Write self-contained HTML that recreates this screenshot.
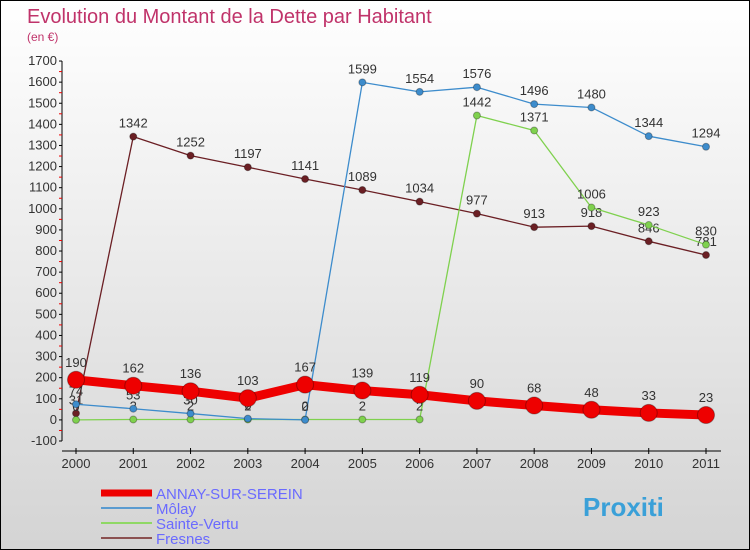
<!DOCTYPE html>
<html><head><meta charset="utf-8"><style>
body{margin:0}
#c{width:748px;height:548px;border:1px solid #000;background:linear-gradient(#fff,#d4d4d4);position:relative;font-family:"Liberation Sans",sans-serif;overflow:hidden}
</style></head><body>
<div id="c">
<svg id="s" width="748" height="548"></svg>
</div>
<script>
const years=[2000,2001,2002,2003,2004,2005,2006,2007,2008,2009,2010,2011];
const annay=[190,162,136,103,167,139,119,90,68,48,33,23];
const molay=[74,53,30,6,0,1599,1554,1576,1496,1480,1344,1294];
const vertu=[0,2,2,2,2,2,2,1442,1371,1006,923,830];
const fresnes=[31,1342,1252,1197,1141,1089,1034,977,913,918,846,781];
const yTicks=[-100,0,100,200,300,400,500,600,700,800,900,1000,1100,1200,1300,1400,1500,1600,1700];
const X=i=>75+i*(630/11), Y=v=>418.9-v*0.2111;
const s=document.getElementById('s');const NS='http://www.w3.org/2000/svg';
function el(t,a,txt){const e=document.createElementNS(NS,t);for(const k in a)e.setAttribute(k,a[k]);if(txt!==undefined)e.textContent=txt;s.appendChild(e);return e;}
let e;
e=el('text',{x:26,y:22,'font-size':20,fill:'#c0336a'},'Evolution du Montant de la Dette par Habitant');

e=el('text',{x:26,y:40,'font-size':12,fill:'#c0336a'},'(en €)');

e=el('line',{x1:61,y1:Y(1700),x2:61,y2:Y(-100),stroke:'#000'});

yTicks.forEach(v=>{el('line',{x1:58,x2:61,y1:Y(v),y2:Y(v),stroke:'#000'});
 if(v<1700)el('line',{x1:58,x2:61,y1:Y(v+50),y2:Y(v+50),stroke:'#e00'});
 e=el('text',{x:56,y:Y(v)+4,'font-size':13,'text-anchor':'end',fill:'#333'},v);
 });
e=el('line',{x1:61,x2:720,y1:450,y2:450,stroke:'#000'});

years.forEach((y,i)=>{el('line',{x1:X(i),x2:X(i),y1:447,y2:453,stroke:'#000'});
 e=el('text',{x:X(i),y:467,'font-size':13,'text-anchor':'middle',fill:'#333'},y);
 });
function series(d,col,w,r,name,off){
 e=el('polyline',{points:d.map((v,i)=>X(i)+','+Y(v)).join(' '),fill:'none',stroke:col,'stroke-width':w,'stroke-linejoin':'round'});
 
 d.forEach((v,i)=>{e=el('circle',{cx:X(i),cy:Y(v),r:r,fill:col,stroke:'rgba(0,0,0,0.3)'});
  
  e=el('text',{x:X(i),y:Y(v)-off,'font-size':13,'text-anchor':'middle',fill:'#333'},v);
  });
}
series(fresnes,'#6b1f24',1.3,3.5,'fresnes',9);
series(vertu,'#7fd14e',1.3,3.5,'sainte-vertu',9);
series(molay,'#3d8ccc',1.3,3.5,'molay',9);
series(annay,'#ee0000',9,8.5,'annay',13);
const leg=[['ANNAY-SUR-SEREIN','#ee0000',7],['Môlay','#5a9bd0',2],['Sainte-Vertu','#8fd865',2],['Fresnes','#8b5151',2]];
leg.forEach((l,i)=>{const y=492+i*15;
 e=el('line',{x1:100,x2:151,y1:y,y2:y,stroke:l[1],'stroke-width':l[2]});
 
 e=el('text',{x:155,y:y+6,'font-size':15,fill:'#6a6aff'},l[0]);
 });
e=el('text',{x:582,y:515,'font-size':26,'font-weight':'bold',fill:'#3aa0d8'},'Proxiti');

</script>
</body></html>
